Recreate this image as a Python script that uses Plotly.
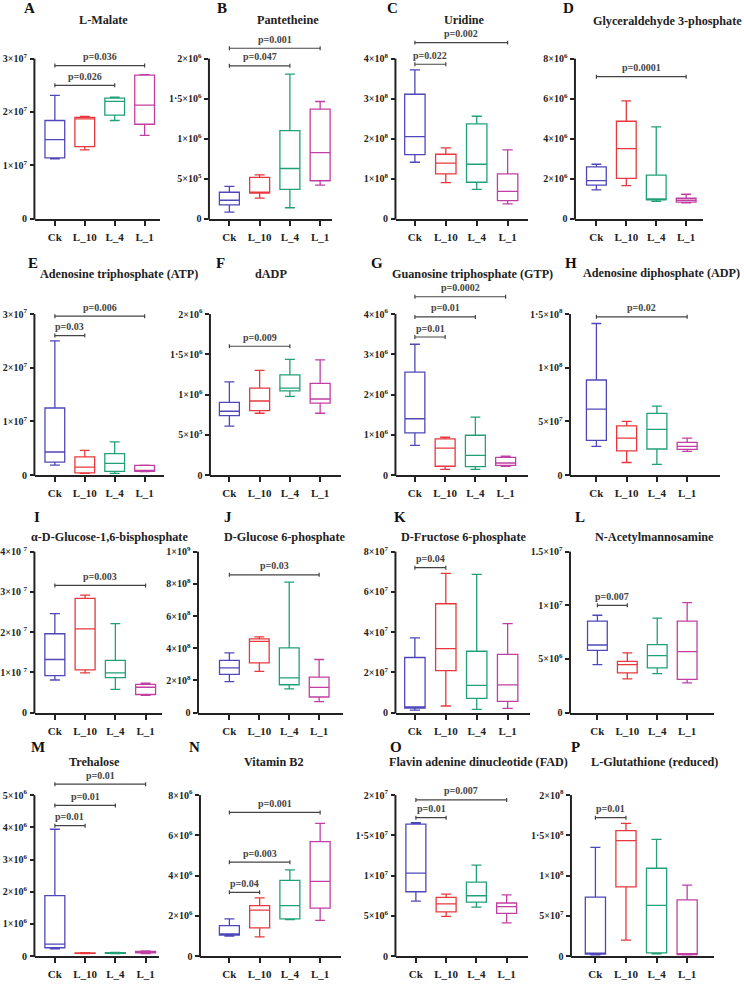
import plotly.graph_objects as go

# ---------------- data ----------------
groups = ["Ck", "L_10", "L_4", "L_1"]
colors = ["#4F47B9", "#E8383D", "#21A078", "#C13FA3"]

titles = ["L-Malate", "Pantetheine", "Uridine", "Glyceraldehyde 3-phosphate",
          "Adenosine triphosphate (ATP)", "dADP", "Guanosine triphosphate (GTP)", "Adenosine diphosphate (ADP)",
          "α-D-Glucose-1,6-bisphosphate", "D-Glucose 6-phosphate", "D-Fructose 6-phosphate", "N-Acetylmannosamine",
          "Trehalose", "Vitamin B2", "Flavin adenine dinucleotide (FAD)", "L-Glutathione (reduced)"]
letters = list("ABCDEFGHIJKLMNOP")

# five-number summaries per panel (order: Ck, L_10, L_4, L_1)
A_low = [1.12e7, 1.29e7, 1.84e7, 1.56e7]
A_q1 = [1.14e7, 1.35e7, 1.94e7, 1.77e7]
A_med = [1.48e7, 1.87e7, 2.20e7, 2.13e7]
A_q3 = [1.84e7, 1.90e7, 2.26e7, 2.69e7]
A_high = [2.31e7, 1.915e7, 2.28e7, 2.70e7]

B_low = [0.082e6, 0.256e6, 0.136e6, 0.42e6]
B_q1 = [0.173e6, 0.318e6, 0.367e6, 0.474e6]
B_med = [0.23e6, 0.33e6, 0.627e6, 0.825e6]
B_q3 = [0.33e6, 0.515e6, 1.10e6, 1.369e6]
B_high = [0.404e6, 0.548e6, 1.806e6, 1.464e6]

C_low = [1.41e8, 0.90e8, 0.73e8, 0.37e8]
C_q1 = [1.60e8, 1.12e8, 0.91e8, 0.45e8]
C_med = [2.05e8, 1.39e8, 1.36e8, 0.68e8]
C_q3 = [3.11e8, 1.61e8, 2.37e8, 1.12e8]
C_high = [3.72e8, 1.77e8, 2.56e8, 1.72e8]

D_low = [1.44e6, 1.65e6, 0.86e6, 0.79e6]
D_q1 = [1.68e6, 2.01e6, 0.94e6, 0.83e6]
D_med = [1.90e6, 3.50e6, 0.99e6, 0.92e6]
D_q3 = [2.59e6, 4.87e6, 2.18e6, 1.02e6]
D_high = [2.72e6, 5.89e6, 4.59e6, 1.22e6]

E_low = [0.185e7, 0.03e7, 0.03e7, 0.065e7]
E_q1 = [0.24e7, 0.04e7, 0.07e7, 0.07e7]
E_med = [0.43e7, 0.15e7, 0.22e7, 0.08e7]
E_q3 = [1.25e7, 0.34e7, 0.40e7, 0.18e7]
E_high = [2.50e7, 0.46e7, 0.62e7, 0.185e7]

F_low = [0.608e6, 0.768e6, 0.977e6, 0.768e6]
F_q1 = [0.739e6, 0.80e6, 1.047e6, 0.895e6]
F_med = [0.793e6, 0.92e6, 1.08e6, 0.945e6]
F_q3 = [0.903e6, 1.08e6, 1.244e6, 1.14e6]
F_high = [1.158e6, 1.30e6, 1.437e6, 1.43e6]

G_low = [0.74e6, 0.14e6, 0.14e6, 0.22e6]
G_q1 = [1.05e6, 0.22e6, 0.21e6, 0.24e6]
G_med = [1.40e6, 0.67e6, 0.49e6, 0.30e6]
G_q3 = [2.56e6, 0.90e6, 0.99e6, 0.44e6]
G_high = [3.25e6, 0.94e6, 1.44e6, 0.47e6]

H_low = [0.268e8, 0.117e8, 0.10e8, 0.22e8]
H_q1 = [0.323e8, 0.225e8, 0.243e8, 0.24e8]
H_med = [0.615e8, 0.345e8, 0.425e8, 0.268e8]
H_q3 = [0.886e8, 0.458e8, 0.575e8, 0.305e8]
H_high = [1.412e8, 0.50e8, 0.643e8, 0.345e8]

I_low = [0.81e7, 0.99e7, 0.58e7, 0.43e7]
I_q1 = [0.92e7, 1.06e7, 0.87e7, 0.45e7]
I_med = [1.32e7, 2.08e7, 0.99e7, 0.63e7]
I_q3 = [1.96e7, 2.84e7, 1.30e7, 0.70e7]
I_high = [2.46e7, 2.92e7, 2.21e7, 0.73e7]

J_low = [1.92e8, 2.56e8, 1.48e8, 0.68e8]
J_q1 = [2.37e8, 3.09e8, 1.73e8, 0.97e8]
J_med = [2.78e8, 4.43e8, 2.16e8, 1.57e8]
J_q3 = [3.24e8, 4.58e8, 4.02e8, 2.21e8]
J_high = [3.71e8, 4.70e8, 8.10e8, 3.30e8]

K_low = [0.12e7, 0.33e7, 0.16e7, 0.21e7]
K_q1 = [0.23e7, 2.09e7, 0.71e7, 0.56e7]
K_med = [0.26e7, 3.18e7, 1.35e7, 1.38e7]
K_q3 = [2.74e7, 5.41e7, 3.05e7, 2.89e7]
K_high = [3.71e7, 6.92e7, 6.87e7, 4.42e7]

L_low = [4.48e6, 3.15e6, 3.64e6, 2.78e6]
L_q1 = [5.80e6, 3.70e6, 4.17e6, 3.09e6]
L_med = [6.30e6, 4.48e6, 5.31e6, 5.68e6]
L_q3 = [8.52e6, 4.78e6, 6.33e6, 8.52e6]
L_high = [9.07e6, 5.56e6, 8.80e6, 10.25e6]

M_low = [0.23e6, 0.08e6, 0.08e6, 0.08e6]
M_q1 = [0.26e6, 0.085e6, 0.09e6, 0.10e6]
M_med = [0.37e6, 0.09e6, 0.10e6, 0.12e6]
M_q3 = [1.88e6, 0.10e6, 0.11e6, 0.15e6]
M_high = [3.94e6, 0.105e6, 0.115e6, 0.16e6]

N_low = [1.00e6, 0.96e6, 1.81e6, 1.78e6]
N_q1 = [1.04e6, 1.40e6, 1.85e6, 2.39e6]
N_med = [1.10e6, 2.29e6, 2.51e6, 3.71e6]
N_q3 = [1.52e6, 2.51e6, 3.76e6, 5.69e6]
N_high = [1.85e6, 2.89e6, 4.29e6, 6.60e6]

O_low = [0.684e7, 0.495e7, 0.61e7, 0.412e7]
O_q1 = [0.80e7, 0.55e7, 0.67e7, 0.53e7]
O_med = [1.03e7, 0.65e7, 0.75e7, 0.614e7]
O_q3 = [1.64e7, 0.73e7, 0.919e7, 0.66e7]
O_high = [1.657e7, 0.771e7, 1.13e7, 0.762e7]

P_low = [0.016e8, 0.198e8, 0.029e8, 0.016e8]
P_q1 = [0.025e8, 0.861e8, 0.041e8, 0.02e8]
P_med = [0.037e8, 1.434e8, 0.631e8, 0.029e8]
P_q3 = [0.734e8, 1.558e8, 1.092e8, 0.70e8]
P_high = [1.352e8, 1.649e8, 1.451e8, 0.882e8]

# y tick values per panel (last value = top of axis)
A_ticks = [0, 1e7, 2e7, 3e7]
B_ticks = [0, 5e5, 1e6, 1.5e6, 2e6]
C_ticks = [0, 1e8, 2e8, 3e8, 4e8]
D_ticks = [0, 2e6, 4e6, 6e6, 8e6]
E_ticks = [0, 1e7, 2e7, 3e7]
F_ticks = [0, 5e5, 1e6, 1.5e6, 2e6]
G_ticks = [0, 1e6, 2e6, 3e6, 4e6]
H_ticks = [0, 5e7, 1e8, 1.5e8]
I_ticks = [0, 1e7, 2e7, 3e7, 4e7]
J_ticks = [0, 2e8, 4e8, 6e8, 8e8, 1e9]
K_ticks = [0, 2e7, 4e7, 6e7, 8e7]
L_ticks = [0, 5e6, 1e7, 1.5e7]
M_ticks = [0, 1e6, 2e6, 3e6, 4e6, 5e6]
N_ticks = [0, 2e6, 4e6, 6e6, 8e6]
O_ticks = [0, 5e6, 1e7, 1.5e7, 2e7]
P_ticks = [0, 5e7, 1e8, 1.5e8, 2e8]

# significance brackets: (from group, to group, height, label)
A_sig = [(0, 3, 2.87e7, "p=0.036"), (0, 2, 2.50e7, "p=0.026")]
B_sig = [(0, 3, 2.13e6, "p=0.001"), (0, 2, 1.91e6, "p=0.047")]
C_sig = [(0, 3, 4.40e8, "p=0.002"), (0, 1, 3.86e8, "p=0.022")]
D_sig = [(0, 3, 7.1e6, "p=0.0001")]
E_sig = [(0, 3, 2.96e7, "p=0.006"), (0, 1, 2.60e7, "p=0.03")]
F_sig = [(0, 2, 1.60e6, "p=0.009")]
G_sig = [(0, 3, 4.43e6, "p=0.0002"), (0, 2, 3.93e6, "p=0.01"), (0, 1, 3.43e6, "p=0.01")]
H_sig = [(0, 3, 1.474e8, "p=0.02")]
I_sig = [(0, 3, 3.16e7, "p=0.003")]
J_sig = [(0, 3, 8.56e8, "p=0.03")]
K_sig = [(0, 1, 7.2e7, "p=0.04")]
L_sig = [(0, 1, 1.0e7, "p=0.007")]
M_sig = [(0, 3, 5.34e6, "p=0.01"), (0, 2, 4.68e6, "p=0.01"), (0, 1, 4.05e6, "p=0.01")]
N_sig = [(0, 3, 7.14e6, "p=0.001"), (0, 2, 4.67e6, "p=0.003"), (0, 1, 3.17e6, "p=0.04")]
O_sig = [(0, 3, 1.94e7, "p=0.007"), (0, 1, 1.72e7, "p=0.01")]
P_sig = [(0, 1, 1.72e8, "p=0.01")]

# ---------------- layout geometry (pixels) ----------------
W, H = 744, 984
# per panel: y-axis x, Ck centre, L_1 centre, x-axis right end
col_geom = [(33, 53, 143, 158), (208, 228, 319, 331), (395, 414, 507, 527), (575, 596, 686, 703),
            (33, 53, 143, 162), (209, 228, 319, 340), (395, 414, 505, 527), (570, 596, 687, 720),
            (33, 53, 144, 160), (197, 228, 318, 342), (395, 414, 507, 529), (570, 597, 687, 714),
            (33, 53, 144, 157), (199, 228, 319, 340), (395, 415, 506, 527), (571, 595, 687, 714)]
# per row: top tick y, zero y, top of plotting domain
row_geom = [(59, 220, 34), (316, 478, 290), (555, 717, 548), (800, 962, 783)]
letter_pos = [(28, 8), (221, 8), (392, 8), (568, 8), (31, 265), (219, 265), (376, 265), (571, 265),
              (35, 520), (227, 520), (399, 520), (580, 520), (36, 752), (193, 752), (395, 752), (575, 752)]
title_pos = [(102, 20), (287, 20), (464, 20), (667, 21), (117, 276), (270, 276), (472, 276), (661, 275),
             (108, 540), (283, 540), (463, 540), (654, 540), (93, 767), (272, 767), (478, 767), (654, 767)]

SERIF = "Liberation Serif"
AXC = "#222222"

stats = {k: (globals()[k + "_low"], globals()[k + "_q1"], globals()[k + "_med"],
             globals()[k + "_q3"], globals()[k + "_high"]) for k in letters}
ticks = {k: globals()[k + "_ticks"] for k in letters}
sigs = {k: globals()[k + "_sig"] for k in letters}


def tick_label(v, letter):
    if v == 0:
        return "<b>0</b>"
    import math
    e = int(math.floor(math.log10(v) + 1e-9))
    m = v / 10 ** e
    if abs(m - round(m)) < 1e-9:
        ms = str(int(round(m)))
    else:
        ms = ("%g" % m).replace(".", "." if letter == "L" else "·")
    sp = " " if letter == "I" else ""
    return f"<b>{ms}×10{sp}<sup>{e}</sup></b>"


fig = go.Figure()
layout = {}
shapes = []
annotations = []

for k, L in enumerate(letters):
    ax = "" if k == 0 else str(k + 1)
    x0, ck, l1, x1 = col_geom[k]
    ttop, zero, dtop = row_geom[k // 4]
    s = (l1 - ck) / 3.0
    xr = [-(ck - x0) / s, 3 + (x1 - l1) / s]
    tv = ticks[L]
    M = tv[-1]
    R = M * (zero - dtop) / (zero - ttop)
    low, q1, med, q3, high = stats[L]
    for i in range(4):
        fig.add_trace(go.Box(
            x=[i], lowerfence=[low[i]], q1=[q1[i]], median=[med[i]], q3=[q3[i]], upperfence=[high[i]],
            width=0.66, whiskerwidth=0.5, boxpoints=False,
            line=dict(color=colors[i], width=1.3), fillcolor="rgba(0,0,0,0)",
            showlegend=False, hoverinfo="skip", xaxis="x" + ax, yaxis="y" + ax))
    layout["xaxis" + ax] = dict(
        domain=[x0 / W, x1 / W], range=xr, anchor="y" + ax,
        tickvals=[0, 1, 2, 3], ticktext=["<b>%s</b>" % g for g in groups],
        showline=True, linewidth=2, linecolor=AXC,
        ticks="outside", ticklen=5, tickwidth=1.5, tickcolor=AXC, showgrid=False, zeroline=False,
        tickfont=dict(family=SERIF, size=11, color=AXC), ticklabelstandoff=2)
    layout["yaxis" + ax] = dict(
        domain=[1 - zero / H, 1 - dtop / H], range=[0, R], anchor="x" + ax,
        tickvals=tv, ticktext=[tick_label(v, L) for v in tv], showline=False,
        ticks="outside", ticklen=4, tickwidth=1.5, tickcolor=AXC, showgrid=False, zeroline=False,
        tickfont=dict(family=SERIF, size=10, color=AXC), ticklabelstandoff=1)
    # y axis line from 0 to top tick
    shapes.append(dict(type="line", xref="paper", yref="paper", x0=x0 / W - 0.5 / W, x1=x0 / W - 0.5 / W,
                       y0=1 - (zero + 1) / H, y1=1 - ttop / H, line=dict(color=AXC, width=2)))
    # significance brackets
    dy = 2.0 / (zero - ttop) * M
    for (a, b, yv, lab) in sigs[L]:
        for seg in [(a, yv, b, yv), (a, yv - dy, a, yv + dy), (b, yv - dy, b, yv + dy)]:
            shapes.append(dict(type="line", xref="x" + ax, yref="y" + ax,
                               x0=seg[0], y0=seg[1], x1=seg[2], y1=seg[3],
                               line=dict(color="#444444", width=1.2)))
        annotations.append(dict(x=(a + b) / 2, y=yv, xref="x" + ax, yref="y" + ax, text="<b>%s</b>" % lab,
                                showarrow=False, yshift=9, xanchor="center", yanchor="middle",
                                font=dict(family=SERIF, size=10, color="#444444")))
    lx, ly = letter_pos[k]
    annotations.append(dict(x=lx / W, y=1 - ly / H, xref="paper", yref="paper", text="<b>%s</b>" % L,
                            showarrow=False, xanchor="center", yanchor="middle",
                            font=dict(family=SERIF, size=15, color="#111111")))
    tx, ty = title_pos[k]
    annotations.append(dict(x=tx / W, y=1 - ty / H, xref="paper", yref="paper", text="<b>%s</b>" % titles[k],
                            showarrow=False, xanchor="center", yanchor="middle",
                            font=dict(family=SERIF, size=12.2, color="#222222")))

fig.update_layout(width=W, height=H, margin=dict(l=0, r=0, t=0, b=0),
                  paper_bgcolor="white", plot_bgcolor="white",
                  shapes=shapes, annotations=annotations, **layout)
fig.write_html("out.html")
